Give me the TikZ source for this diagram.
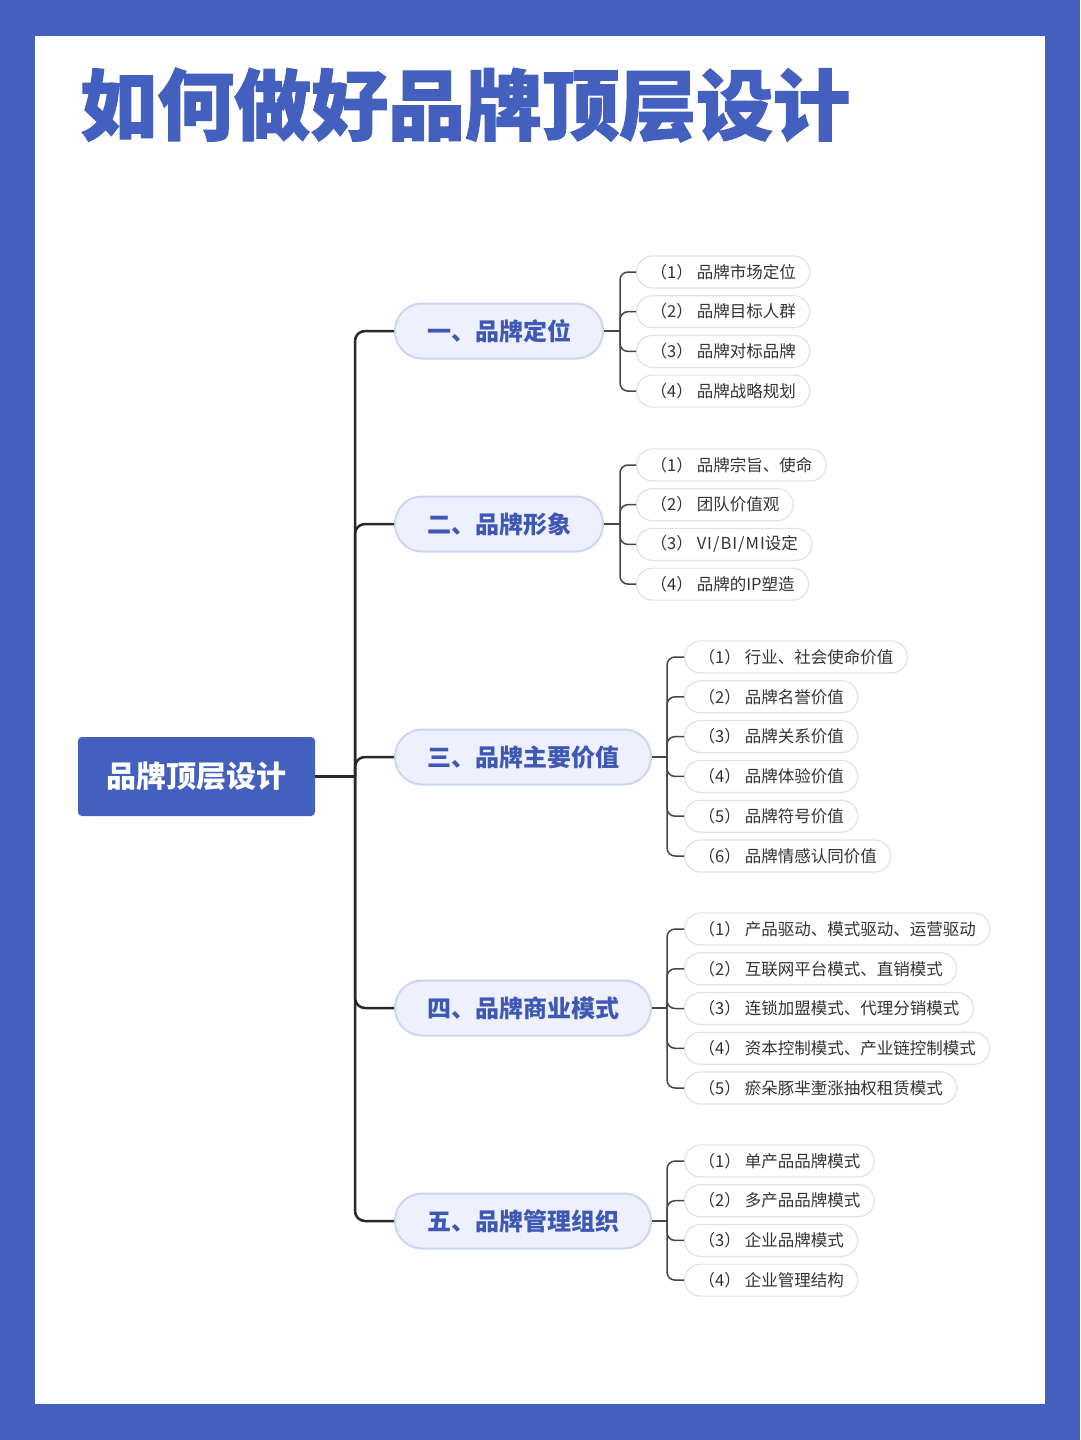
\documentclass[tikz,border=0pt]{standalone}
\usepackage{fontspec}
\setmainfont{Noto Sans CJK SC}
\newfontfamily\cjk{Noto Sans CJK SC}
\newfontfamily\titlefont[BoldFeatures={FakeBold=1.5}]{Noto Sans CJK SC}
\definecolor{mainblue}{RGB}{68,96,190}
\definecolor{branchfill}{RGB}{238,241,253}
\definecolor{branchborder}{RGB}{205,213,245}
\definecolor{branchtext}{RGB}{62,88,180}
\definecolor{leafborder}{RGB}{226,226,226}
\definecolor{leaftext}{RGB}{51,51,51}
\definecolor{linecol}{RGB}{40,40,40}
\definecolor{twigcol}{RGB}{70,70,70}
\begin{document}
\begin{tikzpicture}[x=1pt,y=-1pt,
  rootbox/.style={fill=mainblue, rounded corners=4pt, text=white,
    font=\cjk\bfseries\fontsize{30}{36}\selectfont,
    minimum width=237pt, minimum height=79pt, inner sep=0pt},
  branchbox/.style={fill=branchfill, draw=branchborder, line width=2pt,
    rounded corners=27pt, text=branchtext, anchor=west,
    font=\cjk\bfseries\fontsize{24}{28}\selectfont,
    minimum height=55pt, inner sep=0pt},
  leafbox/.style={draw=leafborder, line width=1.2pt, fill=white,
    rounded corners=16pt, minimum height=32pt, inner xsep=14pt, inner ysep=0pt,
    anchor=west, text=leaftext, font=\cjk\fontsize{16.5}{20}\selectfont},
  trunk/.style={draw=linecol, line width=2.5pt, rounded corners=10pt},
  twig/.style={draw=twigcol, line width=1.5pt, rounded corners=8pt}
]
\useasboundingbox (0,0) rectangle (1080,1440);
\fill[mainblue] (0,0) rectangle (1080,1440);
\fill[white] (35,36) rectangle (1045,1404);

\node[anchor=west, inner sep=0pt, text=mainblue,
  font=\titlefont\bfseries\fontsize{77}{80}\selectfont] (title) at (80,105) {如何做好品牌顶层设计};

\node[rootbox] (root) at (196.5,776.5) {品牌顶层设计};
\coordinate (jr) at (355,776.5);
\draw[trunk] (root.east) -- (jr);

\node[branchbox, minimum width=208pt] (b1) at (394,331) {一、品牌定位};
\node[branchbox, minimum width=208pt] (b2) at (394,524) {二、品牌形象};
\node[branchbox, minimum width=256pt] (b3) at (394,757) {三、品牌主要价值};
\node[branchbox, minimum width=256pt] (b4) at (394,1008) {四、品牌商业模式};
\node[branchbox, minimum width=256pt] (b5) at (394,1221) {五、品牌管理组织};

\foreach \b in {b1,b2,b3,b4,b5} {
  \draw[trunk] (jr) |- (\b.west);
}

\coordinate (j1) at (620,331);
\coordinate (j2) at (620,524);
\coordinate (j3) at (667,757);
\coordinate (j4) at (667,1008);
\coordinate (j5) at (667,1221);
\draw[twig] (b1.east) -- (j1);
\draw[twig] (b2.east) -- (j2);
\draw[twig] (b3.east) -- (j3);
\draw[twig] (b4.east) -- (j4);
\draw[twig] (b5.east) -- (j5);

\foreach \t [count=\i] in {品牌市场定位,品牌目标人群,品牌对标品牌,品牌战略规划} {
  \node[leafbox] (a\i) at (636,{272+(\i-1)*39.7}) {（\i）\hspace{4pt}\t};
  \draw[twig] (j1) |- (a\i.west);
}
\foreach \t [count=\i] in {品牌宗旨、使命,团队价值观,{{\addfontfeature{LetterSpace=6}VI/BI/MI}设定},品牌的IP塑造} {
  \node[leafbox] (c\i) at (636,{465+(\i-1)*39.7}) {（\i）\hspace{4pt}\t};
  \draw[twig] (j2) |- (c\i.west);
}
\foreach \t [count=\i] in {行业、社会使命价值,品牌名誉价值,品牌关系价值,品牌体验价值,品牌符号价值,品牌情感认同价值} {
  \node[leafbox] (d\i) at (684,{657+(\i-1)*39.8}) {（\i）\hspace{4pt}\t};
  \draw[twig] (j3) |- (d\i.west);
}
\foreach \t [count=\i] in {产品驱动、模式驱动、运营驱动,互联网平台模式、直销模式,连锁加盟模式、代理分销模式,资本控制模式、产业链控制模式,瘀朵豚芈壍涨抽权租赁模式} {
  \node[leafbox] (e\i) at (684,{929+(\i-1)*39.75}) {（\i）\hspace{4pt}\t};
  \draw[twig] (j4) |- (e\i.west);
}
\foreach \t [count=\i] in {单产品品牌模式,多产品品牌模式,企业品牌模式,企业管理结构} {
  \node[leafbox] (f\i) at (684,{1161+(\i-1)*39.7}) {（\i）\hspace{4pt}\t};
  \draw[twig] (j5) |- (f\i.west);
}
\end{tikzpicture}
\end{document}
